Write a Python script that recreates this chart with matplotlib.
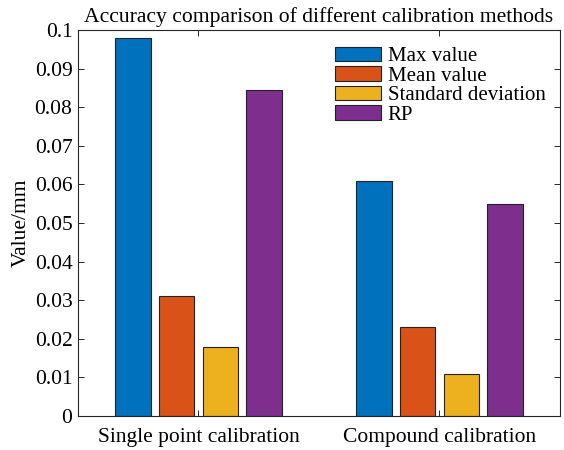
import matplotlib.pyplot as plt
import numpy as np

plt.rcParams['font.family'] = ['Liberation Serif', 'DejaVu Serif']

# Calibration error statistics (mm)
methods = ['Single point calibration', 'Compound calibration']
series_names = ['Max value', 'Mean value', 'Standard deviation', 'RP']
max_value = [0.098, 0.061]
mean_value = [0.031, 0.023]
std_value = [0.018, 0.011]
rp_value = [0.0844, 0.055]

colors = ['#0072BD', '#D95319', '#EDB120', '#7E2F8E']
all_series = [max_value, mean_value, std_value, rp_value]

fig = plt.figure(figsize=(5.64, 4.5), dpi=100)
ax = fig.add_axes([0.1383, 0.0756, 0.8546, 0.8577])

x = np.arange(1, len(methods) + 1)
width = 0.148
step = 0.182
for i, (vals, name, c) in enumerate(zip(all_series, series_names, colors)):
    ax.bar(x + (i - 1.5) * step, vals, width, color=c, edgecolor='#222222',
           linewidth=0.8, label=name)

ax.set_xlim(0.5, 2.5)
ax.set_ylim(0, 0.1)
ax.set_xticks(x)
ax.set_xticklabels(methods)
ax.set_yticks(np.arange(0, 0.101, 0.01))
ax.set_yticklabels(['0', '0.01', '0.02', '0.03', '0.04', '0.05',
                    '0.06', '0.07', '0.08', '0.09', '0.1'])
ax.tick_params(direction='in', top=True, right=True, labelsize=15.5,
               length=4, width=0.7, color='#262626')
ax.tick_params(axis='x', pad=9)
ax.tick_params(axis='y', pad=4)
for s in ax.spines.values():
    s.set_color('#262626')
    s.set_linewidth(0.8)

ax.set_ylabel('Value/mm', fontsize=15.5, labelpad=3)
ax.set_title('Accuracy comparison of different calibration methods',
             fontsize=15.6, pad=6)

ax.legend(loc='upper right', bbox_to_anchor=(1.0, 0.995), frameon=False,
          fontsize=15, handlelength=2.2, handleheight=0.7,
          labelspacing=0.0, handletextpad=0.3, borderaxespad=0.3)

plt.savefig('out.png', dpi=100)
